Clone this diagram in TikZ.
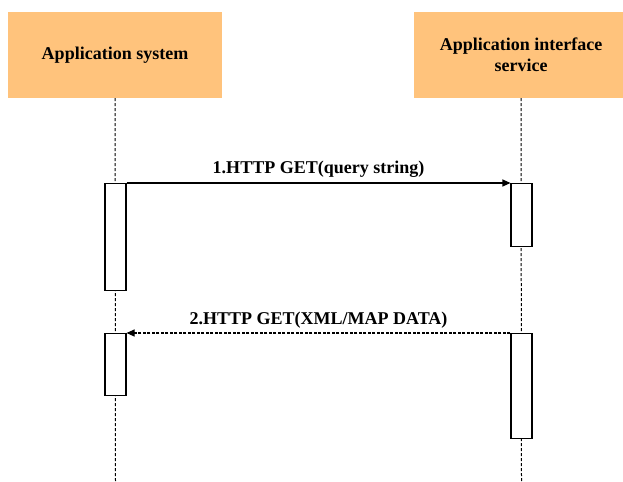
\documentclass[tikz,border=0pt]{standalone}
\usepackage{fontspec}
\setmainfont{Liberation Serif}
\usetikzlibrary{arrows.meta}
\definecolor{headfill}{RGB}{255,195,124}
\tikzset{
  header/.style={fill=headfill, draw=none, minimum width=214bp, minimum height=86bp,
    inner sep=0pt, align=center, font=\fontsize{18bp}{21bp}\selectfont\bfseries},
  lifeline/.style={draw=black, line width=1bp, dash pattern=on 3bp off 2bp},
  activation/.style={draw=black, fill=white, line width=1.1bp, minimum width=21bp,
    inner sep=0pt, anchor=north},
  msg/.style={line width=1.1bp, -{Triangle[length=8bp,width=7bp]}},
  reply/.style={msg, dash pattern=on 3bp off 1.5bp},
  msglabel/.style={font=\fontsize{18bp}{21bp}\selectfont\bfseries, anchor=base, inner sep=0pt}
}
\begin{document}
\begin{tikzpicture}[x=1bp,y=-1bp]
  \useasboundingbox (0,0) rectangle (623,482);
  \clip (0,0) rectangle (623,482);

  % participants
  \node[header] (sys) at (115,55) {Application system};
  \node[header] (svc) at (521,55) {Application interface\\service};

  % lifeline ends
  \coordinate (sysend) at (115.5,482);
  \coordinate (svcend) at (521.5,482);
  \draw[lifeline] (sys.south) -- (sysend);
  \draw[lifeline] (svc.south) -- (svcend);

  % activation bars
  \node[activation, minimum height=107bp] (a1) at (115.5,183) {};
  \node[activation, minimum height=63bp]  (b1) at (521.5,183) {};
  \node[activation, minimum height=62bp]  (a2) at (115.5,333) {};
  \node[activation, minimum height=105bp] (b2) at (521.5,333) {};

  % messages
  \draw[msg] (a1.north east) -- node[msglabel, yshift=9bp] {1.HTTP GET(query string)} (b1.north west);
  \draw[reply] (b2.north west) -- node[msglabel, yshift=9bp] {2.HTTP GET(XML/MAP DATA)} (a2.north east);
\end{tikzpicture}
\end{document}
